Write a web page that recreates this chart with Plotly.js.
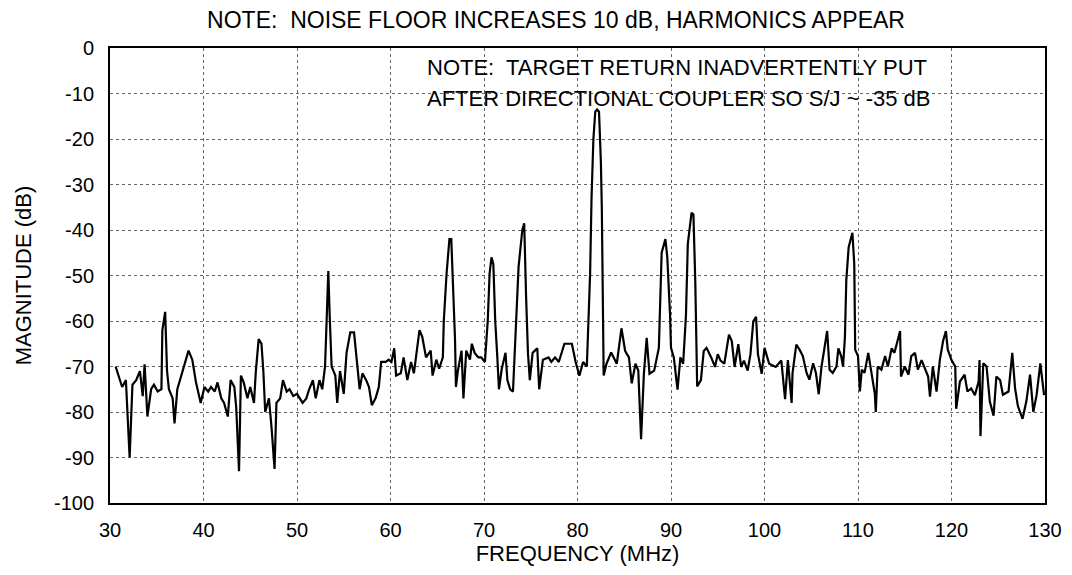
<!DOCTYPE html>
<html>
<head>
<meta charset="utf-8">
<script src="https://cdn.plot.ly/plotly-3.0.1.min.js"></script>
<style>
  html, body { margin: 0; padding: 0; background: #ffffff; }
  #chart { width: 1072px; height: 575px; }
</style>
</head>
<body>
<div id="chart"></div>
<script>
const frequencyMHz = [
  30.6, 30.9, 31.3, 31.7, 32.1, 32.4, 32.8, 33.2, 33.5, 33.7, 34.0, 34.4, 34.7, 35.1, 35.5, 35.6, 35.9, 36.1, 36.3, 36.7,
  36.9, 37.2, 37.8, 38.4, 38.8, 39.2, 39.7, 40.1, 40.5, 40.8, 41.2, 41.5, 41.9, 42.2, 42.6, 42.9, 43.3, 43.5, 43.8, 44.0,
  44.3, 44.7, 45.0, 45.4, 45.6, 45.9, 46.2, 46.4, 46.6, 47.0, 47.3, 47.6, 47.8, 48.2, 48.5, 48.9, 49.2, 49.6, 50.0, 50.3,
  50.6, 51.0, 51.3, 51.7, 52.0, 52.4, 52.7, 53.0, 53.2, 53.35, 53.5, 53.7, 54.1, 54.3, 54.6, 55.0, 55.3, 55.7, 56.1, 56.4,
  56.7, 57.0, 57.4, 57.7, 58.0, 58.4, 58.75, 59.0, 59.5, 59.8, 60.1, 60.4, 60.6, 61.1, 61.4, 61.8, 62.2, 62.5, 63.1, 63.4,
  63.8, 64.3, 64.5, 64.9, 65.2, 65.6, 65.7, 66.0, 66.3, 66.5, 66.7, 66.9, 67.0, 67.2, 67.6, 67.8, 68.1, 68.5, 68.7, 69.0,
  69.4, 69.7, 70.1, 70.4, 70.6, 70.8, 71.0, 71.2, 71.4, 71.6, 71.9, 72.3, 72.5, 72.8, 73.1, 73.3, 73.7, 74.1, 74.3, 74.5,
  74.7, 74.9, 75.2, 75.7, 75.9, 76.3, 76.9, 77.2, 77.6, 78.0, 78.6, 79.4, 79.8, 80.2, 80.6, 81.0, 81.2, 81.35, 81.5, 81.7,
  81.9, 82.1, 82.3, 82.5, 82.6, 82.7, 82.8, 83.1, 83.6, 84.2, 84.7, 85.1, 85.5, 85.8, 86.2, 86.5, 86.8, 87.1, 87.4, 87.7,
  88.2, 88.7, 89.0, 89.4, 89.6, 89.9, 90.0, 90.3, 90.7, 91.0, 91.3, 91.6, 91.8, 92.2, 92.4, 92.6, 92.7, 92.8, 93.2, 93.5,
  93.8, 94.3, 94.7, 95.0, 95.3, 95.7, 96.2, 96.5, 96.8, 97.2, 97.5, 97.8, 98.2, 98.5, 98.8, 99.1, 99.3, 99.7, 100.0, 100.5,
  101.2, 101.8, 102.2, 102.5, 102.9, 103.0, 103.4, 103.75, 104.1, 104.5, 104.8, 105.2, 105.5, 105.8, 106.1, 106.4, 106.7, 106.96, 107.3, 107.7,
  107.9, 108.2, 108.4, 108.6, 108.75, 109.0, 109.4, 109.6, 109.7, 110.0, 110.2, 110.4, 110.7, 111.1, 111.4, 111.8, 111.9, 112.1, 112.5, 112.9,
  113.2, 113.6, 113.9, 114.2, 114.5, 114.6, 115.0, 115.4, 115.7, 116.1, 116.4, 116.8, 117.1, 117.5, 117.7, 118.0, 118.4, 118.75, 119.1, 119.4,
  119.6, 120.0, 120.4, 120.5, 120.9, 121.4, 121.7, 122.1, 122.5, 122.9, 123.0, 123.1, 123.4, 123.75, 124.1, 124.5, 124.8, 125.2, 125.5, 126.1,
  126.5, 126.8, 127.1, 127.6, 128.0, 128.4, 128.75, 129.1, 129.5, 129.9
];

const magnitudeDb = [
  -70, -72, -74.5, -73, -90, -74, -73, -71, -76.5, -69.5, -81, -75, -74, -75.5, -75, -62, -58, -71, -75, -77,
  -82.5, -75, -70.5, -66.5, -68.5, -73.5, -78, -74.5, -75.5, -74.5, -75.5, -73.5, -77, -78, -81, -73, -74.5, -79, -93, -72,
  -73.5, -77, -74.5, -78, -71, -64, -65, -71, -80, -77, -84, -92.5, -78, -77, -73, -75.5, -75, -76.5, -76, -77,
  -78, -77, -75, -73, -77, -73, -75, -70, -59, -49, -59, -70, -72, -78, -71, -76, -67, -62.5, -62.5, -69,
  -75, -71.5, -73, -74.5, -78.5, -77, -74.5, -69, -69, -68.5, -69, -66, -72, -71.5, -68, -73, -69, -71.5, -62, -63.5,
  -68, -66.5, -72, -68.5, -70.5, -68, -60, -49.5, -42, -42, -52, -64, -74.5, -71, -66.5, -77, -66.5, -68.5, -65, -67,
  -68, -68, -69, -60, -49.5, -46, -47.5, -60, -67, -75, -70.5, -67, -73, -75, -75.5, -65.5, -48, -40, -38.5, -54.5,
  -67, -73, -67, -66, -75, -68.5, -68, -69, -68, -69, -65, -65, -69, -72, -69, -70, -60, -49.5, -33, -20,
  -14, -13.5, -14, -25, -35, -50, -72, -69.4, -66.9, -69.4, -61.6, -66.6, -68, -73.7, -69.4, -70.9, -86, -71.6, -63.7, -71.6,
  -70.9, -65.9, -45, -42, -45.9, -58.7, -65.9, -68, -75.1, -68, -69.4, -58.7, -43, -36.2, -36.6, -51.6, -65.9, -74.4, -73, -66.6,
  -65.9, -68, -70.1, -67.3, -68.7, -69.4, -63, -64.4, -70.1, -65.1, -70.1, -68.7, -70.9, -67.3, -60.1, -59.1, -67.3, -71.6, -65.9, -69.4,
  -70.1, -68.7, -77.2, -68.6, -78, -71.4, -65.2, -66.3, -67.7, -71.4, -72.9, -69.3, -71.4, -76.1, -70, -66.3, -62.2, -70.7, -71.4, -70,
  -66, -67.7, -70, -63.6, -51, -43.8, -40.6, -47.4, -66.3, -67.7, -75.5, -70.7, -71.4, -67, -70.7, -76, -80, -70, -70.7, -67.7,
  -70, -66, -67, -64.8, -62.2, -72.2, -70, -71.8, -67.7, -67, -70.7, -68.6, -70, -72.2, -76.6, -70, -75.5, -68.6, -64.4, -62.2,
  -66.3, -68.6, -70, -79.3, -73.3, -71.8, -75.5, -74.8, -76.3, -73.3, -68.6, -85.3, -69.3, -70, -77.7, -80.8, -72.2, -73, -76.2, -75.5,
  -67, -74.8, -78.7, -81.5, -77.7, -71.8, -80, -76.3, -69.3, -76.3
];

const xTickValues = [30, 40, 50, 60, 70, 80, 90, 100, 110, 120, 130];
const yTickValues = [0, -10, -20, -30, -40, -50, -60, -70, -80, -90, -100];

const chartTitle = 'NOTE:  NOISE FLOOR INCREASES 10 dB, HARMONICS APPEAR';
const noteLine1 = 'NOTE:  TARGET RETURN INADVERTENTLY PUT';
const noteLine2 = 'AFTER DIRECTIONAL COUPLER SO S/J ~ -35 dB';
const xTitle = 'FREQUENCY (MHz)';
const yTitle = 'MAGNITUDE (dB)';

const FONT = '"Liberation Sans", Arial, Helvetica, sans-serif';

const trace = {
  x: frequencyMHz,
  y: magnitudeDb,
  type: 'scatter',
  mode: 'lines',
  line: { color: '#000000', width: 2.2 },
  hoverinfo: 'x+y',
  showlegend: false
};

const layout = {
  width: 1072,
  height: 575,
  paper_bgcolor: '#ffffff',
  plot_bgcolor: '#ffffff',
  margin: { l: 110, r: 27, t: 48, b: 72 },
  font: { family: FONT, color: '#000000', size: 20 },
  title: {
    text: chartTitle,
    font: { family: FONT, size: 23, color: '#000000' },
    x: 556 / 1072, xanchor: 'center', xref: 'container',
    y: 1 - 20 / 575, yanchor: 'middle', yref: 'container'
  },
  xaxis: {
    range: [30, 130],
    tickvals: xTickValues,
    ticktext: xTickValues.map(String),
    showgrid: true,
    gridcolor: '#666666',
    gridwidth: 1,
    griddash: 'dot',
    zeroline: false,
    showline: true,
    linecolor: '#000000',
    linewidth: 2,
    mirror: true,
    ticks: '',
    ticklabelstandoff: 8,
    tickfont: { family: FONT, size: 20, color: '#000000' },
    title: { text: xTitle, font: { family: FONT, size: 22, color: '#000000' }, standoff: 0 },
    automargin: false
  },
  yaxis: {
    range: [-100, 0],
    tickvals: yTickValues,
    ticktext: yTickValues.map(String),
    showgrid: true,
    gridcolor: '#666666',
    gridwidth: 1,
    griddash: 'dot',
    zeroline: false,
    showline: true,
    linecolor: '#000000',
    linewidth: 2,
    mirror: true,
    ticks: '',
    ticklabelstandoff: 10,
    tickfont: { family: FONT, size: 20, color: '#000000' },
    title: { text: yTitle, font: { family: FONT, size: 22, color: '#000000' }, standoff: 16 },
    automargin: false
  },
  annotations: [
    {
      text: noteLine1, xref: 'paper', yref: 'paper',
      x: (425 - 110) / 935, y: (503 - 68) / 455,
      xanchor: 'left', yanchor: 'middle', showarrow: false,
      font: { family: FONT, size: 22, color: '#000000' }
    },
    {
      text: noteLine2, xref: 'paper', yref: 'paper',
      x: (425 - 110) / 935, y: (503 - 98) / 455,
      xanchor: 'left', yanchor: 'middle', showarrow: false,
      font: { family: FONT, size: 22, color: '#000000' }
    }
  ]
};

Plotly.newPlot('chart', [trace], layout, { displayModeBar: false });
</script>
</body>
</html>
